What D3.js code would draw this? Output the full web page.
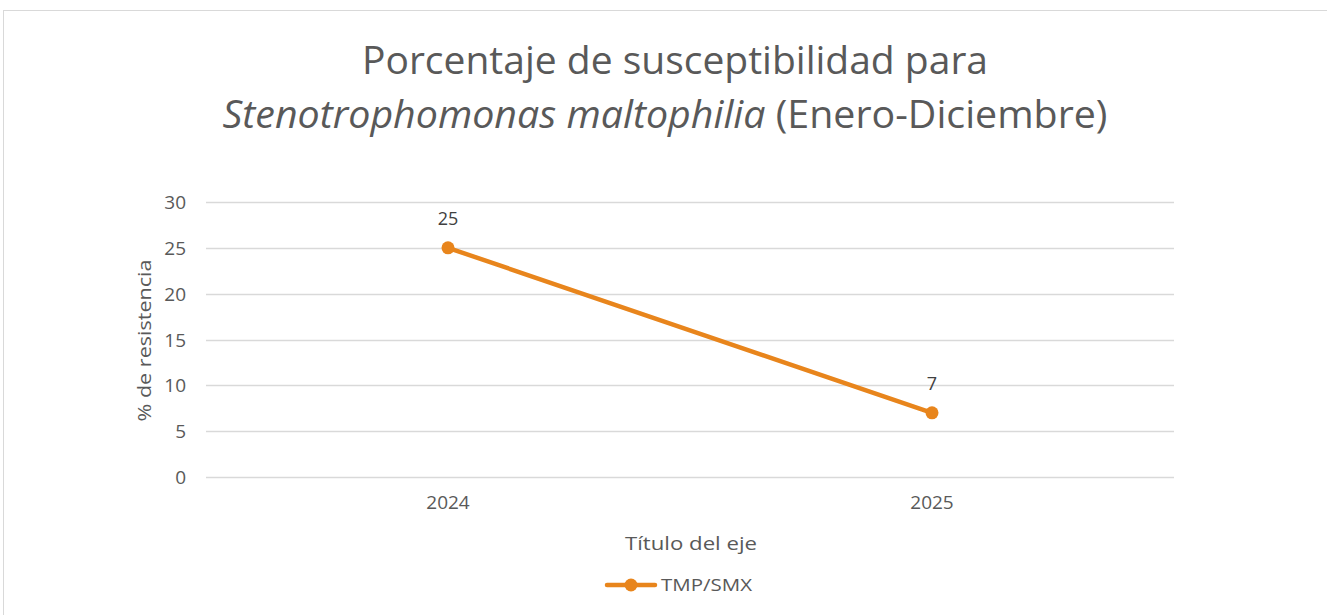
<!DOCTYPE html>
<html><head><meta charset="utf-8">
<script src="https://cdn.jsdelivr.net/npm/d3@7"></script>
<style>body{margin:0;background:#fff;}svg{display:block;font-family:"Open Sans",sans-serif;}</style>
</head><body><svg id="c" width="1327" height="615"></svg>
<script>
const categories = ["2024", "2025"];
const values = [25, 7];
const yTicks = [0, 5, 10, 15, 20, 25, 30];
const seriesName = "TMP/SMX";
const titleLine1 = "Porcentaje de susceptibilidad para";
const titleItalic = "Stenotrophomonas maltophilia";
const titleRest = " (Enero-Diciembre)";
const yTitle = "% de resistencia";
const xTitle = "Título del eje";

const svg = d3.select("#c");
const orange = "#E8851C", gray = "#595959", grid = "#d9d9d9";
const FF = "'Open Sans', sans-serif";

// chart border
svg.append("rect").attr("x", 3.5).attr("y", 10.5).attr("width", 1340).attr("height", 620)
  .attr("fill", "none").attr("stroke", "#d9d9d9");

const m = {left: 206, right: 1174, top: 202, bottom: 477};
const x = d3.scaleBand().domain(categories).range([m.left, m.right]);
const y = d3.scaleLinear().domain([0, 30]).range([m.bottom, m.top]);

// grid
svg.append("g").selectAll("line").data(yTicks).join("line")
  .attr("x1", m.left).attr("x2", m.right)
  .attr("y1", d => Math.round(y(d)) + 0.5).attr("y2", d => Math.round(y(d)) + 0.5)
  .attr("stroke", grid).attr("stroke-width", 1.3);

// y axis
const ya = svg.append("g").attr("transform", `translate(${m.left},0)`)
  .call(d3.axisLeft(y).tickValues(yTicks).tickSize(0).tickPadding(20))
  .attr("font-family", FF).attr("font-size", 19);
ya.select(".domain").remove();
ya.selectAll("text").attr("fill", gray).attr("dy", "0.35em");

// x axis
const xa = svg.append("g").attr("transform", `translate(0,${m.bottom})`)
  .call(d3.axisBottom(x).tickSize(0).tickPadding(19))
  .attr("font-family", FF).attr("font-size", 19);
xa.select(".domain").remove();
xa.selectAll("text").attr("fill", gray);

// axis titles
svg.append("text").attr("transform", `translate(151,${(m.top + m.bottom) / 2 + 1}) rotate(-90)`)
  .attr("text-anchor", "middle").attr("fill", gray).style("font-size", "19px")
  .attr("textLength", 162).attr("lengthAdjust", "spacingAndGlyphs").text(yTitle);
svg.append("text").attr("x", 691).attr("y", 550).attr("text-anchor", "middle")
  .attr("fill", gray).style("font-size", "19px")
  .attr("textLength", 132).attr("lengthAdjust", "spacingAndGlyphs").text(xTitle);

// line
const cx = d => x(d) + x.bandwidth() / 2;
const pts = categories.map((c, i) => [cx(c), y(values[i])]);
svg.append("path").attr("d", d3.line()(pts)).attr("fill", "none")
  .attr("stroke", orange).attr("stroke-width", 4.5).attr("stroke-linecap", "round");
svg.append("g").selectAll("circle").data(pts).join("circle")
  .attr("cx", d => d[0]).attr("cy", d => d[1]).attr("r", 6.5).attr("fill", orange);
svg.append("g").selectAll("text").data(categories).join("text")
  .attr("x", c => cx(c)).attr("y", (c, i) => y(values[i]) - 23)
  .attr("text-anchor", "middle").attr("fill", "#404040").style("font-size", "18px")
  .text((c, i) => values[i]);

// title
const t1 = svg.append("text").attr("x", 675).attr("y", 74).attr("text-anchor", "middle")
  .attr("fill", gray).style("font-size", "38px").text(titleLine1);
t1.attr("textLength", 626).attr("lengthAdjust", "spacingAndGlyphs");
const t2 = svg.append("text").attr("x", 665).attr("y", 128).attr("text-anchor", "middle")
  .attr("fill", gray).style("font-size", "38px");
t2.append("tspan").style("font-style", "italic").text(titleItalic);
t2.append("tspan").text(titleRest);
t2.attr("textLength", 885).attr("lengthAdjust", "spacingAndGlyphs");

// legend
const lg = svg.append("g").attr("transform", "translate(0,585)");
lg.append("line").attr("x1", 607).attr("x2", 655).attr("y1", 0).attr("y2", 0)
  .attr("stroke", orange).attr("stroke-width", 4.5).attr("stroke-linecap", "round");
lg.append("circle").attr("cx", 631).attr("cy", 0).attr("r", 6.5).attr("fill", orange);
lg.append("text").attr("x", 661).attr("y", 0).attr("dy", "0.35em").attr("fill", gray)
  .style("font-size", "17px").attr("textLength", 91).attr("lengthAdjust", "spacingAndGlyphs")
  .text(seriesName);
</script></body></html>
